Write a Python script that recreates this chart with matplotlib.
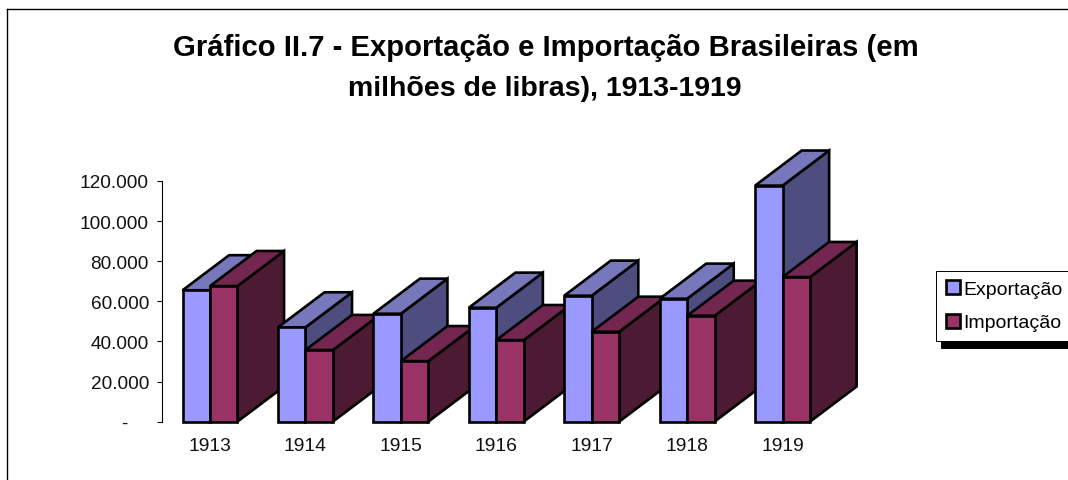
"""Gráfico II.7 - fake-3D clustered columns, drawn as polygons on plain axes."""
import matplotlib

matplotlib.use("Agg")
import matplotlib.pyplot as plt
from matplotlib.lines import Line2D
from matplotlib.patches import Patch, Polygon
from matplotlib.ticker import FuncFormatter

anos = ["1913", "1914", "1915", "1916", "1917", "1918", "1919"]
exportacao = [65500, 47000, 53800, 56800, 62800, 61300, 117700]
importacao = [67600, 35700, 30150, 40650, 44800, 52800, 72100]
y_ticks = [0, 20000, 40000, 60000, 80000, 100000, 120000]

W, H = 1068, 481
BAR_W = 0.288
DEPTH_X = 0.488
DEPTH_Y = 17500

EXP_COLORS = ("#9999FF", "#7777BB", "#4D4D80")  # front, top, side
IMP_COLORS = ("#993366", "#732650", "#4D1A33")

plt.rcParams["font.family"] = ["Liberation Sans", "DejaVu Sans"]

fig = plt.figure(figsize=(W / 100, H / 100), dpi=100)
ax = fig.add_axes([162.3 / W, 1 - 422.6 / H, 668 / W, 240.6 / H])
ax.set_xlim(-0.5, 6.5)
ax.set_ylim(0, 120000)


def draw_column(ax, x0, value, colors):
    x1 = x0 + BAR_W
    front, top, side = colors
    style = dict(ec="black", lw=1.9, joinstyle="miter", clip_on=False)
    ax.add_patch(Polygon([(x1, 0), (x1 + DEPTH_X, DEPTH_Y), (x1 + DEPTH_X, value + DEPTH_Y), (x1, value)],
                         fc=side, **style))
    ax.add_patch(Polygon([(x0, value), (x0 + DEPTH_X, value + DEPTH_Y), (x1 + DEPTH_X, value + DEPTH_Y), (x1, value)],
                         fc=top, **style))
    ax.add_patch(Polygon([(x0, 0), (x0, value), (x1, value), (x1, 0)], fc=front, **style))


for i in range(len(anos)):
    draw_column(ax, i - BAR_W, exportacao[i], EXP_COLORS)
    draw_column(ax, i, importacao[i], IMP_COLORS)

for side in ("top", "right", "bottom"):
    ax.spines[side].set_visible(False)
ax.spines["left"].set_linewidth(0.8)
ax.set_yticks(y_ticks)
ax.yaxis.set_major_formatter(FuncFormatter(lambda v, _: f"{int(v):,}".replace(",", ".") if v else "-    "))
ax.tick_params(axis="y", length=3.6, width=0.8, pad=6, labelsize=13.7, colors="#111111")
ax.set_xticks(range(len(anos)))
ax.set_xticklabels(anos)
ax.tick_params(axis="x", length=0, pad=11, labelsize=13.9, colors="#111111")

fig.text(545.5 / W, 1 - 48 / H, "Gráfico II.7 - Exportação e Importação Brasileiras (em",
         fontsize=21.1, fontweight="bold", ha="center", va="center")
fig.text(545 / W, 1 - 89 / H, "milhões de libras), 1913-1919",
         fontsize=20.5, fontweight="bold", ha="center", va="center")

# chart area border: only left and top are inside the crop
fig.add_artist(Line2D([7 / W, 7 / W], [0, 1 - 10 / H], color="black", lw=1.0))
fig.add_artist(Line2D([7 / W, 1], [1 - 10 / H, 1 - 10 / H], color="black", lw=1.0))

handles = [Patch(fc=EXP_COLORS[0], ec="black", lw=1.9, label="Exportação"),
           Patch(fc=IMP_COLORS[0], ec="black", lw=1.9, label="Importação")]
leg = fig.legend(handles=handles, loc="upper left", bbox_to_anchor=(936 / W, 1 - 271.7 / H),
                 borderaxespad=0, frameon=True, fancybox=False, framealpha=1, edgecolor="black",
                 fontsize=14, handlelength=0.72, handleheight=0.72, handletextpad=0.2,
                 borderpad=0.5, labelspacing=0.8,
                 shadow={"color": "black", "alpha": 1, "ox": 3.6, "oy": -4.8})
leg.get_frame().set_linewidth(0.7)

fig.savefig("out.png", dpi=100)
